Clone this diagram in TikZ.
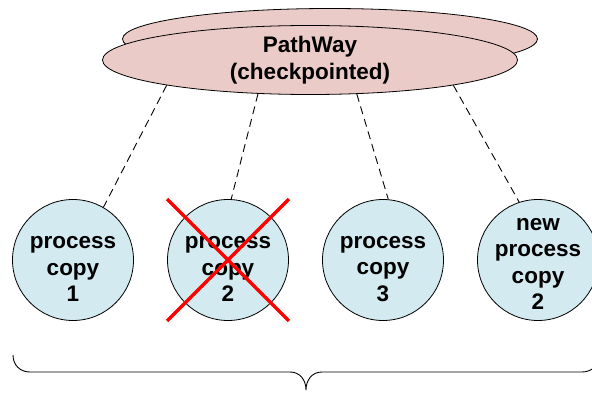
\documentclass[tikz,border=0pt]{standalone}
\usepackage{fontspec}
\setmainfont{Liberation Sans}
\usetikzlibrary{positioning, shapes.geometric}

\definecolor{pathpink}{RGB}{235,203,199}
\definecolor{copyblue}{RGB}{211,234,240}

\begin{document}
\begin{tikzpicture}[x=1pt, y=1pt, node distance=155pt, on grid,
    every node/.style={font=\fontsize{22.5}{26.5}\selectfont\bfseries, align=center},
    pathshape/.style={ellipse, draw, line width=0.8pt, fill=pathpink, inner sep=0pt, minimum width=415pt, minimum height=69pt},
    proc/.style={circle, draw, line width=0.8pt, fill=copyblue, minimum size=121pt, inner sep=0pt},
    link/.style={draw, dash pattern=on 8pt off 5pt, line width=0.9pt},
    cross/.style={draw=red, line width=3.5pt}]
	\useasboundingbox (0,0) rectangle (592,392);

	% the checkpointed pathway, with a second copy behind it
	\node[pathshape, minimum height=61pt] (pathback) at (330,353) {};
	\node[pathshape] (pathway) at (310,332) {PathWay\\(checkpointed)};

	\node[proc] (c1) at (73,132) {};
	\node[proc, right=of c1] (c2) {};
	\node[proc, right=of c2] (c3) {};
	\node[proc, right=of c3] (c4) {};

	\node[yshift=-9pt] (t1) at (c1) {process\\copy\\1};
	\node[yshift=-9pt] (t2) at (c2) {process\\copy\\2};
	\node[yshift=-9pt] (t3) at (c3) {process\\copy\\3};
	\node[yshift=-4pt] (t4) at (c4) {new\\process\\copy\\2};

	\path[link]
	(pathway.190) edge (c1.60)
	(pathway.213) edge (c2.87)
	(pathway.324) edge (c3.85)
	(pathway.350) edge (c4.108);

	% copy 2 is gone
	\path[cross] (c2.north -| c2.west) -- (c2.south -| c2.east)
	(c2.north -| c2.east) -- (c2.south -| c2.west);

	% brace under the copies
	\draw[line width=0.9pt] (13,37) .. controls (13,27) and (20,20) .. (30,20) -- (290,20)
	.. controls (300,20) and (306,12) .. (306,2)
	.. controls (306,12) and (312,20) .. (322,20) -- (582,20)
	.. controls (592,20) and (599,27) .. (599,37);
\end{tikzpicture}
\end{document}
